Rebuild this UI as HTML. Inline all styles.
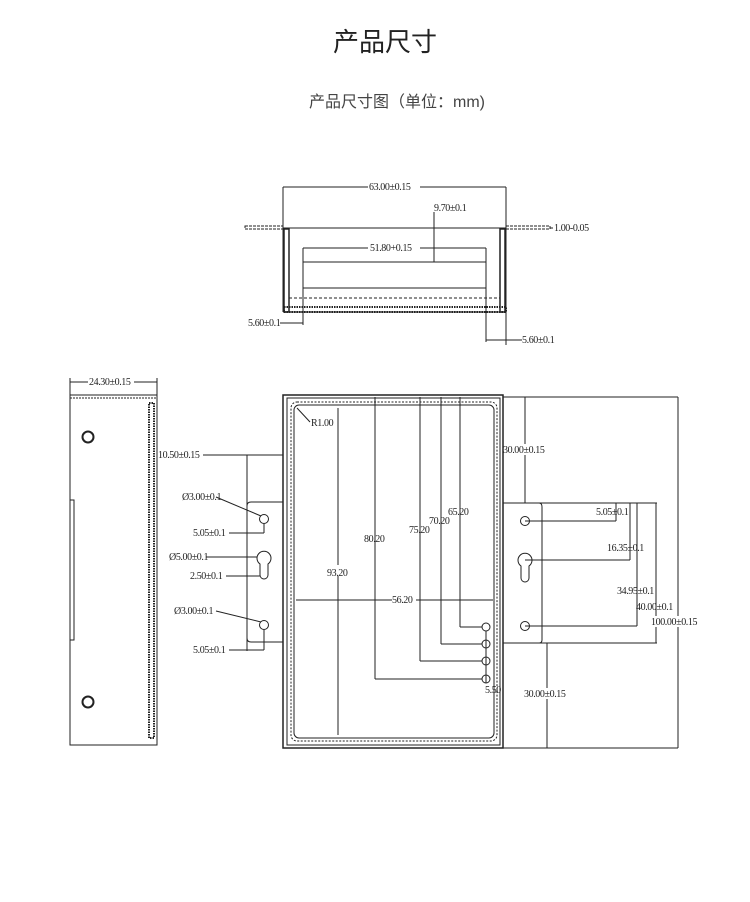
<!DOCTYPE html>
<html><head><meta charset="utf-8"><style>
html,body{margin:0;padding:0;background:#fff;}
body{width:750px;height:902px;overflow:hidden;position:relative;}
.t{position:absolute;font-family:"Liberation Sans","Noto Sans CJK SC",sans-serif;white-space:nowrap;}
svg{position:absolute;left:0;top:0;}
svg text{font-family:"Liberation Serif",serif;font-size:10px;letter-spacing:-0.4px;fill:#222;stroke:none;}
</style></head><body>
<div class="t" style="left:333px;top:22px;font-size:26px;color:#222;">产品尺寸</div>
<div class="t" style="left:309px;top:88px;font-size:16px;color:#444;">产品尺寸图（单位：mm)</div>
<svg width="750" height="902" viewBox="0 0 750 902" fill="none" stroke="#222" stroke-width="1">
<!-- top view -->
<line x1="283" y1="187" x2="506" y2="187"/>
<line x1="283" y1="187" x2="283" y2="312"/>
<line x1="506" y1="187" x2="506" y2="345"/>
<line x1="283" y1="228" x2="506" y2="228"/>
<rect x="245" y="226" width="38" height="3" stroke-dasharray="3,1"/>
<rect x="506" y="226" width="44" height="3" stroke-dasharray="3,1"/>
<line x1="550" y1="228" x2="553" y2="228"/>
<rect x="284" y="229" width="5" height="83" stroke-width="1.5"/>
<rect x="500" y="229" width="5" height="83" stroke-width="1.5"/>
<line x1="303" y1="248" x2="486" y2="248"/>
<line x1="303" y1="248" x2="303" y2="325"/>
<line x1="486" y1="248" x2="486" y2="342"/>
<line x1="303" y1="262" x2="486" y2="262"/>
<line x1="303" y1="288" x2="486" y2="288"/>
<line x1="434" y1="212" x2="434" y2="262"/>
<line x1="289" y1="298" x2="500" y2="298" stroke-dasharray="3,2"/>
<rect x="284" y="307" width="222" height="5" stroke-dasharray="1.5,1" stroke-width="2"/>
<line x1="284" y1="312" x2="506" y2="312"/>
<line x1="280" y1="323" x2="303" y2="323"/>
<line x1="486" y1="340" x2="522" y2="340"/>
<rect x="368" y="181" width="52" height="11" fill="#fff" stroke="none"/>
<text x="369" y="190">63.00±0.15</text>
<text x="434" y="211">9.70±0.1</text>
<rect x="368" y="243" width="52" height="11" fill="#fff" stroke="none"/>
<text x="370" y="251">51.80+0.15</text>
<text x="554" y="231">1.00-0.05</text>
<text x="248" y="326">5.60±0.1</text>
<text x="522" y="343">5.60±0.1</text>
<!-- side view -->
<line x1="70" y1="382" x2="157" y2="382"/>
<line x1="70" y1="378" x2="70" y2="395"/>
<line x1="157" y1="378" x2="157" y2="395"/>
<rect x="88" y="376" width="46" height="11" fill="#fff" stroke="none"/>
<text x="89" y="385">24.30±0.15</text>
<rect x="70" y="395" width="87" height="350"/>
<line x1="70" y1="398" x2="157" y2="398" stroke-dasharray="2,1"/>
<rect x="149" y="403" width="5" height="335" stroke-dasharray="1.5,1" stroke-width="2"/>
<circle cx="88" cy="437" r="5.5" stroke-width="2"/>
<circle cx="88" cy="702" r="5.5" stroke-width="2"/>
<rect x="70" y="500" width="4" height="140"/>
<!-- left flange -->
<line x1="203" y1="455" x2="283" y2="455"/>
<line x1="247" y1="455" x2="247" y2="651"/>
<path d="M283 502 H251 Q247 502 247 506 V638 Q247 642 251 642 H283"/>
<circle cx="264" cy="519" r="4.5"/>
<path d="M260 564 A7 7 0 1 1 268 564 V575 A4 4 0 0 1 260 575 Z"/>
<circle cx="264" cy="625" r="4.5"/>
<line x1="216" y1="497" x2="261" y2="516"/>
<line x1="229" y1="533" x2="264" y2="533"/><line x1="264" y1="524" x2="264" y2="533"/>
<line x1="206" y1="557" x2="257" y2="557"/>
<line x1="226" y1="576" x2="260" y2="576"/>
<line x1="216" y1="611" x2="261" y2="622"/>
<line x1="229" y1="650" x2="264" y2="650"/><line x1="264" y1="630" x2="264" y2="650"/>
<text x="158" y="458">10.50±0.15</text>
<text x="182" y="500">Ø3.00±0.1</text>
<text x="193" y="536">5.05±0.1</text>
<text x="169" y="560">Ø5.00±0.1</text>
<text x="190" y="579">2.50±0.1</text>
<text x="174" y="614">Ø3.00±0.1</text>
<text x="193" y="653">5.05±0.1</text>
<!-- main box -->
<rect x="283" y="395" width="220" height="353" stroke-width="1.5"/>
<rect x="287" y="398" width="213" height="347"/>
<rect x="291" y="402" width="206" height="339" rx="6" stroke-dasharray="2,1.5"/>
<rect x="294" y="405" width="200" height="333" rx="5"/>
<line x1="297" y1="408" x2="310" y2="422"/>
<text x="311" y="426">R1.00</text>
<line x1="338" y1="408" x2="338" y2="735"/>
<line x1="375" y1="397" x2="375" y2="679"/><line x1="375" y1="679" x2="482" y2="679"/>
<line x1="420" y1="397" x2="420" y2="661"/><line x1="420" y1="661" x2="482" y2="661"/>
<line x1="441" y1="397" x2="441" y2="644"/><line x1="441" y1="644" x2="482" y2="644"/>
<line x1="460" y1="397" x2="460" y2="627"/><line x1="460" y1="627" x2="482" y2="627"/>
<line x1="296" y1="600" x2="493" y2="600"/>
<circle cx="486" cy="627" r="4"/><circle cx="486" cy="644" r="4"/><circle cx="486" cy="661" r="4"/><circle cx="486" cy="679" r="4"/>
<line x1="486" y1="631" x2="486" y2="683"/>
<rect x="326" y="565" width="22" height="11" fill="#fff" stroke="none"/>
<text x="327" y="576">93.20</text>
<text x="364" y="542">80.20</text>
<text x="409" y="533">75.20</text>
<text x="429" y="524">70.20</text>
<text x="448" y="515">65.20</text>
<rect x="392" y="594" width="24" height="11" fill="#fff" stroke="none"/>
<text x="392" y="603">56.20</text>
<text x="485" y="693">5.50</text>
<!-- right side -->
<line x1="503" y1="397" x2="678" y2="397"/>
<line x1="678" y1="397" x2="678" y2="748"/>
<line x1="503" y1="748" x2="678" y2="748"/>
<line x1="525" y1="397" x2="525" y2="503"/>
<line x1="503" y1="503" x2="657" y2="503"/>
<path d="M503 503 H539 Q542 503 542 507 V640 Q542 643 539 643 H503"/>
<line x1="503" y1="643" x2="657" y2="643"/>
<line x1="547" y1="643" x2="547" y2="748"/>
<circle cx="525" cy="521" r="4.5"/>
<path d="M521 566 A7 7 0 1 1 529 566 V578 A4 4 0 0 1 521 578 Z"/>
<circle cx="525" cy="626" r="4.5"/>
<line x1="525" y1="521" x2="616" y2="521"/><line x1="616" y1="503" x2="616" y2="521"/>
<line x1="525" y1="560" x2="630" y2="560"/><line x1="630" y1="503" x2="630" y2="560"/>
<line x1="525" y1="626" x2="637" y2="626"/><line x1="637" y1="503" x2="637" y2="626"/>
<line x1="656" y1="503" x2="656" y2="643"/>
<rect x="505" y="444" width="46" height="11" fill="#fff" stroke="none"/>
<text x="503" y="453">30.00±0.15</text>
<text x="596" y="515">5.05±0.1</text>
<text x="607" y="551">16.35±0.1</text>
<text x="617" y="594">34.95±0.1</text>
<text x="636" y="610">40.00±0.1</text>
<rect x="651" y="616" width="50" height="11" fill="#fff" stroke="none"/>
<text x="651" y="625">100.00±0.15</text>
<rect x="524" y="688" width="48" height="11" fill="#fff" stroke="none"/>
<text x="524" y="697">30.00±0.15</text>
</svg>
</body></html>
